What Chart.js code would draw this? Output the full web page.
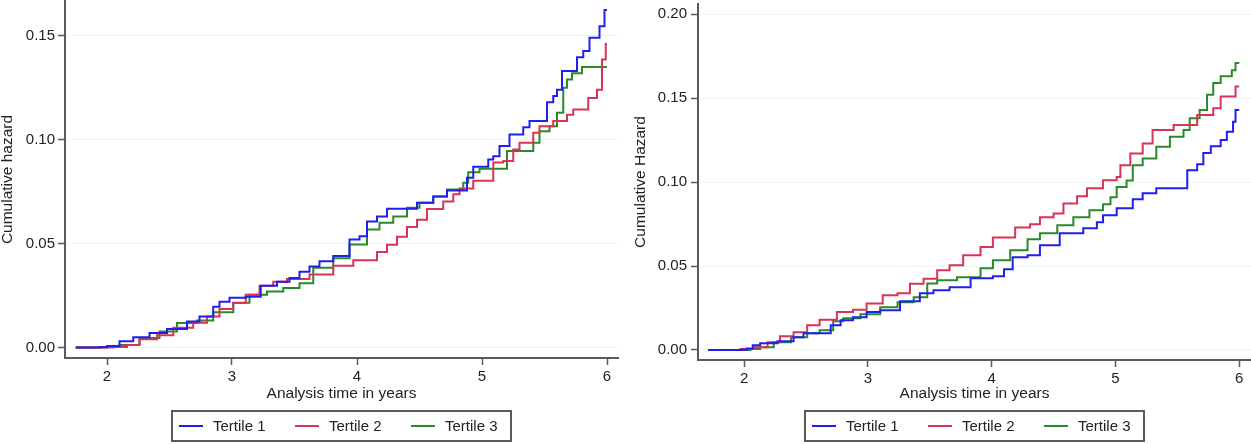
<!DOCTYPE html>
<html>
<head>
<meta charset="utf-8">
<script src="https://cdn.jsdelivr.net/npm/chart.js@4.4.1/dist/chart.umd.min.js"></script>
<style>
  body { margin: 0; background: #fff; }
  #links { position: absolute; left: 0; top: 0; }
  #rechts { position: absolute; left: 620px; top: 0; }
</style>
</head>
<body>
<canvas id="links" width="620" height="444"></canvas>
<canvas id="rechts" width="631" height="444"></canvas>
<script>
// tijd (jaren), cumulatieve hazard
const seriesNamen = ["Tertile 1", "Tertile 2", "Tertile 3"];
const xTicks = [2, 3, 4, 5, 6];
const yTicksLinks = [0, 0.05, 0.10, 0.15];
const yTicksRechts = [0, 0.05, 0.10, 0.15, 0.20];

// linker grafiek
const links1 = [[1.75,0],[1.94,0.0003],[2.00,0.0008],[2.10,0.003],[2.21,0.005],[2.34,0.007],[2.48,0.009],[2.64,0.0125],[2.74,0.015],[2.85,0.0197],[2.90,0.022],[2.98,0.024],[3.11,0.0245],[3.23,0.0297],[3.36,0.0317],[3.46,0.0335],[3.54,0.0365],[3.62,0.039],[3.70,0.0415],[3.81,0.044],[3.94,0.052],[4.02,0.0535],[4.08,0.0607],[4.16,0.063],[4.24,0.0668],[4.48,0.0697],[4.61,0.0727],[4.72,0.0755],[4.88,0.0817],[4.93,0.087],[5.05,0.0905],[5.09,0.092],[5.14,0.097],[5.22,0.1025],[5.33,0.106],[5.38,0.109],[5.52,0.118],[5.57,0.121],[5.60,0.124],[5.64,0.133],[5.76,0.1397],[5.81,0.1427],[5.86,0.149],[5.94,0.1545],[5.98,0.1624],[6.00,0.1624]];
const links2 = [[1.75,0],[2.05,0.0003],[2.16,0.0013],[2.26,0.004],[2.40,0.006],[2.53,0.0095],[2.69,0.012],[2.80,0.015],[2.90,0.0186],[3.01,0.0215],[3.11,0.0254],[3.22,0.0297],[3.33,0.0317],[3.44,0.033],[3.62,0.0352],[3.81,0.0394],[3.97,0.042],[4.16,0.046],[4.24,0.0495],[4.32,0.0533],[4.40,0.058],[4.48,0.0615],[4.56,0.0667],[4.69,0.0703],[4.77,0.0737],[4.82,0.0765],[4.93,0.0803],[5.09,0.089],[5.17,0.0897],[5.25,0.0953],[5.30,0.0985],[5.41,0.1033],[5.46,0.1065],[5.57,0.109],[5.68,0.112],[5.73,0.1145],[5.85,0.120],[5.92,0.124],[5.96,0.1386],[5.99,0.146],[6.00,0.146]];
const links3 = [[1.75,0],[2.00,0.0003],[2.10,0.0013],[2.26,0.0046],[2.42,0.0077],[2.56,0.0118],[2.72,0.013],[2.85,0.017],[3.01,0.0216],[3.14,0.0254],[3.28,0.027],[3.41,0.0287],[3.54,0.031],[3.65,0.0384],[3.81,0.043],[3.94,0.0496],[4.08,0.0568],[4.18,0.060],[4.29,0.063],[4.40,0.0673],[4.50,0.0697],[4.61,0.0727],[4.72,0.076],[4.85,0.0793],[4.89,0.0843],[4.98,0.086],[5.20,0.0945],[5.41,0.0985],[5.46,0.104],[5.54,0.1065],[5.60,0.113],[5.65,0.125],[5.68,0.129],[5.72,0.132],[5.80,0.135],[6.00,0.135]];

// rechter grafiek
const rechts1 = [[1.71,0],[2.02,0.0008],[2.07,0.0028],[2.13,0.004],[2.27,0.0052],[2.40,0.0076],[2.48,0.010],[2.70,0.0147],[2.78,0.0177],[2.88,0.0195],[2.99,0.0226],[3.10,0.0237],[3.26,0.029],[3.42,0.0338],[3.53,0.0356],[3.66,0.0374],[3.83,0.0427],[4.01,0.0439],[4.10,0.048],[4.17,0.0552],[4.29,0.0564],[4.39,0.0624],[4.55,0.0695],[4.74,0.0725],[4.85,0.0761],[4.90,0.0803],[5.01,0.0844],[5.14,0.0897],[5.22,0.0933],[5.33,0.0964],[5.58,0.107],[5.66,0.1106],[5.71,0.1173],[5.77,0.1214],[5.85,0.125],[5.90,0.130],[5.95,0.136],[5.97,0.143],[6.00,0.143]];
const rechts2 = [[1.71,0],[1.97,0.0005],[2.08,0.0016],[2.19,0.0046],[2.29,0.0082],[2.40,0.0106],[2.51,0.0147],[2.61,0.018],[2.75,0.0226],[2.88,0.024],[2.99,0.0276],[3.12,0.0326],[3.24,0.0338],[3.34,0.0394],[3.45,0.0424],[3.56,0.0474],[3.66,0.0505],[3.77,0.0564],[3.91,0.0613],[4.01,0.067],[4.19,0.073],[4.31,0.0749],[4.39,0.079],[4.50,0.0813],[4.58,0.0872],[4.69,0.0915],[4.77,0.0964],[4.90,0.1011],[5.01,0.103],[5.04,0.110],[5.12,0.117],[5.22,0.123],[5.30,0.131],[5.47,0.134],[5.66,0.140],[5.79,0.144],[5.85,0.151],[5.97,0.157],[6.00,0.157]];
const rechts3 = [[1.71,0],[2.05,0.0005],[2.13,0.0016],[2.24,0.0046],[2.38,0.0076],[2.51,0.010],[2.61,0.0117],[2.72,0.0171],[2.80,0.0189],[2.94,0.0213],[3.10,0.0254],[3.24,0.0284],[3.37,0.0314],[3.48,0.0396],[3.56,0.0415],[3.72,0.0433],[3.91,0.0487],[4.01,0.0535],[4.15,0.0594],[4.29,0.066],[4.39,0.0695],[4.53,0.0743],[4.66,0.079],[4.79,0.0832],[4.90,0.0868],[4.96,0.091],[5.01,0.097],[5.09,0.101],[5.14,0.110],[5.22,0.114],[5.33,0.121],[5.44,0.127],[5.55,0.131],[5.60,0.138],[5.68,0.143],[5.74,0.152],[5.79,0.159],[5.85,0.163],[5.94,0.1667],[5.97,0.171],[6.00,0.171]];

const kleuren = ['#1f1ff0', '#d93355', '#2a8a2a'];
const lettertype = '"Liberation Sans", Arial, sans-serif';
const asKleur = '#5a5a5a';

// legenda met kader onder de grafiek
const legendaKader = {
  id: 'legendaKader',
  afterDraw(chart) {
    const ctx = chart.ctx;
    const ca = chart.chartArea;
    const cx = (ca.left + ca.right) / 2;
    const w = 339, h = 30, top = 411;
    const links = cx - w / 2;
    ctx.save();
    ctx.strokeStyle = asKleur;
    ctx.lineWidth = 2;
    ctx.strokeRect(links, top, w, h);
    ctx.font = '15px ' + lettertype;
    ctx.textBaseline = 'middle';
    ctx.textAlign = 'left';
    chart.data.datasets.forEach((ds, i) => {
      const x = links + 7 + i * 116;
      ctx.strokeStyle = ds.borderColor;
      ctx.lineWidth = 2;
      ctx.beginPath();
      ctx.moveTo(x, top + h / 2);
      ctx.lineTo(x + 24, top + h / 2);
      ctx.stroke();
      ctx.fillStyle = '#222';
      ctx.fillText(ds.label, x + 34, top + h / 2 + 1);
    });
    ctx.restore();
  }
};

function maakGrafiek(id, reeksen, yTitel, yMin, yMax, yTicks, opties) {
  const ctx = document.getElementById(id).getContext('2d');
  return new Chart(ctx, {
    type: 'line',
    data: {
      datasets: reeksen.map((r, i) => ({
        label: seriesNamen[i],
        data: r.map(p => ({ x: p[0], y: p[1] })),
        borderColor: kleuren[i],
        backgroundColor: kleuren[i],
        borderWidth: 2,
        pointRadius: 0,
        stepped: true,
        fill: false
      }))
    },
    options: {
      responsive: false,
      animation: false,
      devicePixelRatio: 1,
      layout: { padding: opties.padding },
      plugins: { legend: { display: false }, tooltip: { enabled: false } },
      scales: {
        x: {
          type: 'linear',
          min: opties.xMin,
          max: opties.xMax,
          afterBuildTicks: s => { s.ticks = xTicks.map(v => ({ value: v })); },
          afterFit: s => { s.height = opties.xHoogte; s.paddingLeft = 0; s.paddingRight = 0; },
          grid: { drawOnChartArea: false, tickLength: 7, tickColor: asKleur, tickWidth: 1.5 },
          border: { color: asKleur, width: 2 },
          ticks: { color: '#222', padding: 3, font: { family: lettertype, size: 15 }, callback: v => String(v) },
          title: { display: true, text: 'Analysis time in years', color: '#222',
                   font: { family: lettertype, size: 15.5 }, padding: { top: 0, bottom: 1 } }
        },
        y: {
          min: yMin,
          max: yMax,
          afterBuildTicks: s => { s.ticks = yTicks.map(v => ({ value: v })); },
          afterFit: s => { s.width = opties.yBreedte; s.paddingTop = 0; s.paddingBottom = 0; },
          grid: { color: '#edf5f5', lineWidth: 1, tickLength: 7, tickColor: asKleur, tickWidth: 1.5 },
          border: { color: asKleur, width: 2 },
          ticks: { color: '#222', padding: opties.tickPad, font: { family: lettertype, size: 15 }, callback: v => v.toFixed(2) },
          title: { display: true, text: yTitel, color: '#222',
                   font: { family: lettertype, size: 15.5, lineHeight: 1 }, padding: { top: opties.titelPad, bottom: 0 } }
        }
      }
    },
    plugins: [legendaKader]
  });
}

maakGrafiek('links', [links1, links2, links3], 'Cumulative hazard', -0.005, 0.1667, yTicksLinks,
  { xMin: 1.664, xMax: 6.088, xHoogte: 46, yBreedte: 65, tickPad: 3, titelPad: 0,
    padding: { left: 0, right: 2, top: 1, bottom: 40 } });
maakGrafiek('rechts', [rechts1, rechts2, rechts3], 'Cumulative Hazard', -0.006, 0.2061, yTicksRechts,
  { xMin: 1.628, xMax: 6.095, xHoogte: 44, yBreedte: 78, tickPad: 4, titelPad: 13,
    padding: { left: 0, right: 0, top: 4, bottom: 40 } });
</script>
</body>
</html>
